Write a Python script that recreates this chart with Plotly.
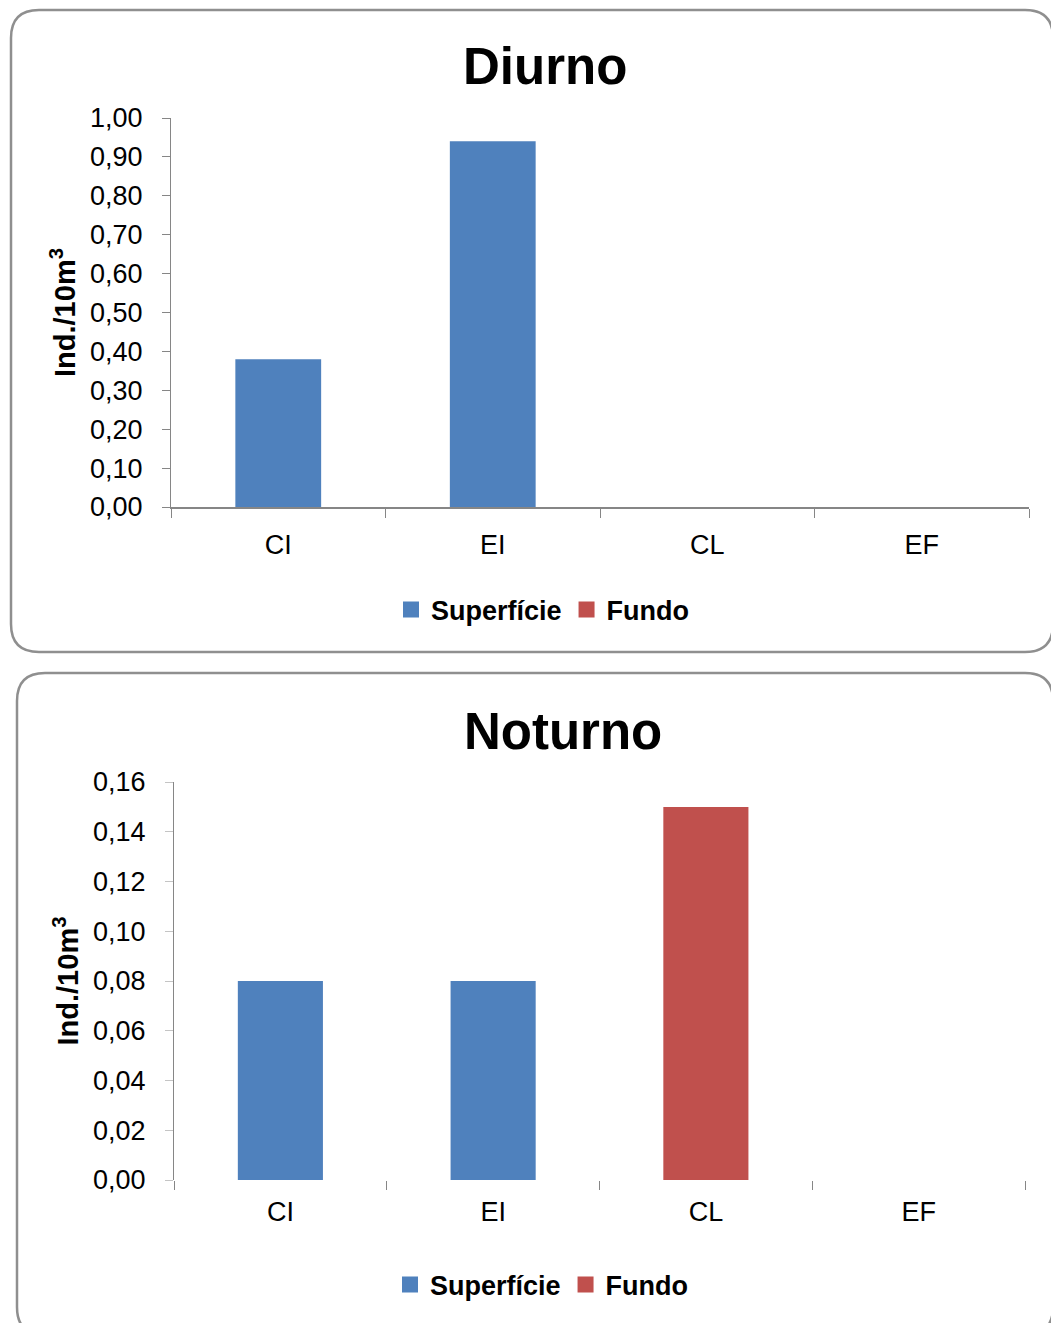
import plotly.graph_objects as go

# Sampling sites and densities (Ind./10m³)
categories = ["CI", "EI", "CL", "EF"]
diurno_superficie = [0.38, 0.94, 0, 0]
diurno_fundo = [0, 0, 0, 0]
noturno_superficie = [0.08, 0.08, 0, 0]
noturno_fundo = [0, 0, 0.15, 0]

series_names = ["Superfície", "Fundo"]
titles = ["Diurno", "Noturno"]
y_title = "<b>Ind./10m<sup>3</sup></b>"

BLUE = "#4F81BD"
RED = "#C0504D"
FONT = "Liberation Sans, Arial, sans-serif"
W, H = 1051, 1323


def px_x(v):
    return v / W


def px_y(v):
    return 1 - v / H


fig = go.Figure()

bar_style = dict(width=0.4, marker_line_width=0, showlegend=False)
panels = [
    ("x", "y", "legend", diurno_superficie, diurno_fundo),
    ("x2", "y2", "legend2", noturno_superficie, noturno_fundo),
]
for xa, ya, lg, sup, fun in panels:
    for name, vals, color in ((series_names[0], sup, BLUE), (series_names[1], fun, RED)):
        fig.add_trace(go.Bar(x=categories, y=vals, name=name, marker_color=color,
                             xaxis=xa, yaxis=ya, legendgroup=lg + name, **bar_style))
        # square legend key with the same colour as the bars
        fig.add_trace(go.Scatter(x=[None], y=[None], mode="markers", name=name,
                                 marker=dict(symbol="square", size=16, color=color),
                                 xaxis=xa, yaxis=ya, legend=lg, legendgroup=lg + name,
                                 showlegend=True, hoverinfo="skip"))

tick_font = dict(family=FONT, size=27, color="#000000")
cat_font = dict(family=FONT, size=27, color="#000000")
axis_gray = "#868686"


def xaxis_cfg(domain, anchor, showline):
    return dict(domain=domain, anchor=anchor, type="category", range=[-0.5, 3.5],
                showline=showline, linecolor=axis_gray, linewidth=2,
                ticks="outside", tickson="boundaries", ticklen=9, tickcolor=axis_gray,
                tickwidth=1, tickfont=cat_font, ticklabelstandoff=13,
                showgrid=False, zeroline=False, fixedrange=True)


def yaxis_cfg(domain, anchor, rng, dtick, tickcolor):
    return dict(domain=domain, anchor=anchor, range=rng, dtick=dtick, tick0=0,
                tickformat=".2f", showline=True, linecolor=axis_gray, linewidth=1,
                ticks="outside", ticklen=8, tickcolor=tickcolor, tickwidth=1,
                tickfont=tick_font, ticklabelstandoff=14,
                showgrid=False, zeroline=False,
                title=dict(text=y_title, font=dict(family=FONT, size=29, color="#000000"),
                           standoff=5),
                fixedrange=True)


def rounded_box(x0, y0, x1, y1, r):
    rx, ry = r / W, r / H
    a, b = px_x(x0), px_x(x1)
    t, btm = px_y(y0), px_y(y1)
    return (f"M {a + rx},{t} L {b - rx},{t} Q {b},{t} {b},{t - ry} "
            f"L {b},{btm + ry} Q {b},{btm} {b - rx},{btm} "
            f"L {a + rx},{btm} Q {a},{btm} {a},{btm + ry} "
            f"L {a},{t - ry} Q {a},{t} {a + rx},{t} Z")


legend_cfg = dict(orientation="h", xanchor="center", yanchor="middle",
                  font=dict(family=FONT, size=27, color="#000000", weight="bold"),
                  itemwidth=30, traceorder="normal", bgcolor="rgba(0,0,0,0)",
                  itemclick=False, itemdoubleclick=False)

fig.update_layout(
    width=W, height=H, autosize=False,
    margin=dict(l=0, r=0, t=0, b=0, autoexpand=False),
    paper_bgcolor="white", plot_bgcolor="white",
    separators=",.",
    barmode="overlay",
    showlegend=True,
    xaxis=xaxis_cfg([px_x(171), px_x(1029)], "y", True),
    yaxis=yaxis_cfg([px_y(507), px_y(118)], "x", [0, 1.0], 0.1, axis_gray),
    xaxis2=xaxis_cfg([px_x(174), px_x(1025)], "y2", False),
    yaxis2=yaxis_cfg([px_y(1180), px_y(782)], "x2", [0, 0.16], 0.02, "#c4c4c4"),
    legend=dict(legend_cfg, x=px_x(543), y=px_y(610)),
    legend2=dict(legend_cfg, x=px_x(542), y=px_y(1285)),
    shapes=[
        dict(type="path", xref="paper", yref="paper",
             path=rounded_box(11, 10, 1053, 652, 28),
             line=dict(color="#8f8f8f", width=2.5), layer="below"),
        dict(type="path", xref="paper", yref="paper",
             path=rounded_box(17, 673, 1053, 1335, 28),
             line=dict(color="#8f8f8f", width=2.5), layer="below"),
    ],
    annotations=[
        dict(text=f"<b>{titles[0]}</b>", xref="paper", yref="paper",
             x=px_x(545), y=px_y(67), xanchor="center", yanchor="middle",
             showarrow=False, font=dict(family=FONT, size=51, color="#000000")),
        dict(text=f"<b>{titles[1]}</b>", xref="paper", yref="paper",
             x=px_x(563), y=px_y(731), xanchor="center", yanchor="middle",
             showarrow=False, font=dict(family=FONT, size=51, color="#000000")),
    ],
)

fig.write_html("out.html")
